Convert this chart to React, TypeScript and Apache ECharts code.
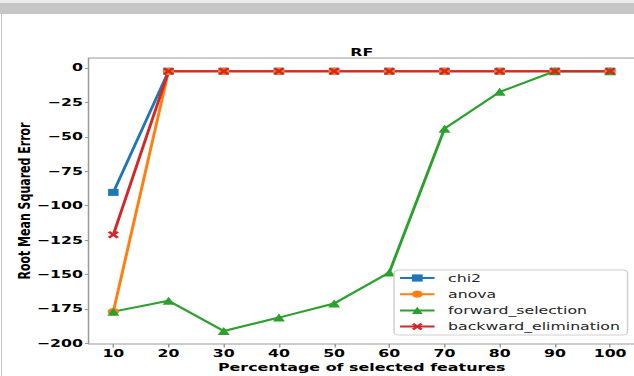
import React, { useEffect, useRef } from "react";
import * as echarts from "echarts";

const percentages = [10, 20, 30, 40, 50, 60, 70, 80, 90, 100];
const chi2 = [-90.4, -2.4, -2.4, -2.4, -2.4, -2.4, -2.4, -2.4, -2.4, -2.4];
const anova = [-177, -2.4, -2.4, -2.4, -2.4, -2.4, -2.4, -2.4, -2.4, -2.4];
const forwardSelection = [-177, -169.1, -191.1, -181.3, -171.1, -148.5, -44.1, -17.4, -2.4, -2.4];
const backwardElimination = [-121.1, -2.4, -2.4, -2.4, -2.4, -2.4, -2.4, -2.4, -2.4, -2.4];
const xTicks = [10, 20, 30, 40, 50, 60, 70, 80, 90, 100];
const yTicks = [0, -25, -50, -75, -100, -125, -150, -175, -200];

const STRETCH = 1.5;
const FONT = "DejaVu Sans";
const X_SYMBOL = "path://M0,2 L2,0 L5,3 L8,0 L10,2 L7,5 L10,8 L8,10 L5,7 L2,10 L0,8 L3,5 Z";

function pairs(vals: number[]) {
  return percentages.map((p, i) => [p, vals[i]]);
}

const fmt = (v: number) => (v < 0 ? "\u2212" + Math.abs(v) : String(v));

export default function App() {
  const ref = useRef<HTMLDivElement>(null);
  useEffect(() => {
    if (!ref.current) return;
    const chart = echarts.init(ref.current, null, { renderer: "svg" });
    const axisColor = "#9a9a9a";
    chart.setOption({
      animation: false,
      backgroundColor: "transparent",
      title: {
        text: "RF",
        left: 241.2,
        top: 47,
        padding: 0,
        textAlign: "center",
        textStyle: { fontFamily: FONT, fontSize: 10.5, fontWeight: "bold", color: "#000" },
      },
      grid: {
        left: 59,
        top: 58,
        right: 0.7,
        bottom: 32,
        show: true,
        borderColor: axisColor,
        borderWidth: 1,
        backgroundColor: "transparent",
        containLabel: false,
        outerBoundsMode: "none",
      },
      legend: {
        orient: "vertical",
        left: 262.7,
        top: 270,
        itemWidth: 23,
        itemHeight: 9,
        itemGap: 5.2,
        padding: [2.5, 5, 3, 3],
        backgroundColor: "rgba(255,255,255,0.85)",
        borderColor: "#d0d0d0",
        borderWidth: 1,
        borderRadius: 3,
        textStyle: { fontFamily: FONT, fontSize: 10.5, color: "#262626", padding: [0, 0, 0, 4] },
        data: ["chi2", "anova", "forward_selection", "backward_elimination"],
      },
      xAxis: {
        type: "value",
        min: 5.5,
        max: 104.5,
        name: "Percentage of selected features",
        nameLocation: "middle",
        nameGap: 18,
        nameMoveOverlap: false,
        nameTextStyle: { fontFamily: FONT, fontSize: 10.6, fontWeight: "bold", color: "#000" },
        axisLine: { show: false, onZero: false },
        axisTick: { show: true, inside: false, length: 3.5, customValues: xTicks, lineStyle: { color: axisColor } },
        axisLabel: {
          customValues: xTicks,
          margin: 4,
          fontFamily: FONT,
          fontSize: 10.5,
          fontWeight: "bold",
          color: "#000",
        },
        splitLine: { show: false },
      },
      yAxis: {
        type: "value",
        min: -200.5,
        max: 7.2,
        name: "Root Mean Squared Error",
        nameLocation: "middle",
        nameGap: 37.5,
        nameMoveOverlap: false,
        nameTextStyle: { fontFamily: FONT, fontSize: 11, fontWeight: "bold", color: "#000" },
        axisLine: { show: false, onZero: false },
        axisTick: { show: true, inside: false, length: 2.4, customValues: yTicks, lineStyle: { color: axisColor } },
        axisLabel: {
          customValues: yTicks,
          margin: 3.7,
          formatter: fmt,
          fontFamily: FONT,
          fontSize: 10.5,
          fontWeight: "bold",
          color: "#000",
        },
        splitLine: { show: false },
      },
      series: [
        {
          name: "chi2",
          type: "line",
          data: pairs(chi2),
          symbol: "rect",
          symbolSize: 7,
          color: "#1f77b4",
          lineStyle: { width: 2 },
        },
        {
          name: "anova",
          type: "line",
          data: pairs(anova),
          symbol: "circle",
          symbolSize: 7.5,
          color: "#ff7f0e",
          lineStyle: { width: 2 },
        },
        {
          name: "forward_selection",
          type: "line",
          data: pairs(forwardSelection),
          symbol: "triangle",
          symbolSize: 8,
          color: "#2ca02c",
          lineStyle: { width: 2 },
        },
        {
          name: "backward_elimination",
          type: "line",
          data: pairs(backwardElimination),
          symbol: X_SYMBOL,
          symbolSize: 7.5,
          color: "#d62728",
          lineStyle: { width: 2 },
        },
      ],
    });
    return () => chart.dispose();
  }, []);

  return (
    <div
      style={{
        position: "absolute",
        left: 0,
        top: 0,
        width: 634,
        height: 376,
        overflow: "hidden",
        background: "#ffffff",
      }}
    >
      <div style={{ position: "absolute", left: 0, top: 0, width: 634, height: 3, background: "#ececec" }} />
      <div style={{ position: "absolute", left: 0, top: 3, width: 634, height: 11, background: "#c6c6c6" }} />
      <div style={{ position: "absolute", left: 1, top: 14, width: 1, height: 362, background: "#c4c4c4" }} />
      <div
        ref={ref}
        style={{
          position: "absolute",
          left: 0,
          top: 0,
          width: 424,
          height: 376,
          transform: `scaleX(${STRETCH})`,
          transformOrigin: "0 0",
        }}
      />
    </div>
  );
}
